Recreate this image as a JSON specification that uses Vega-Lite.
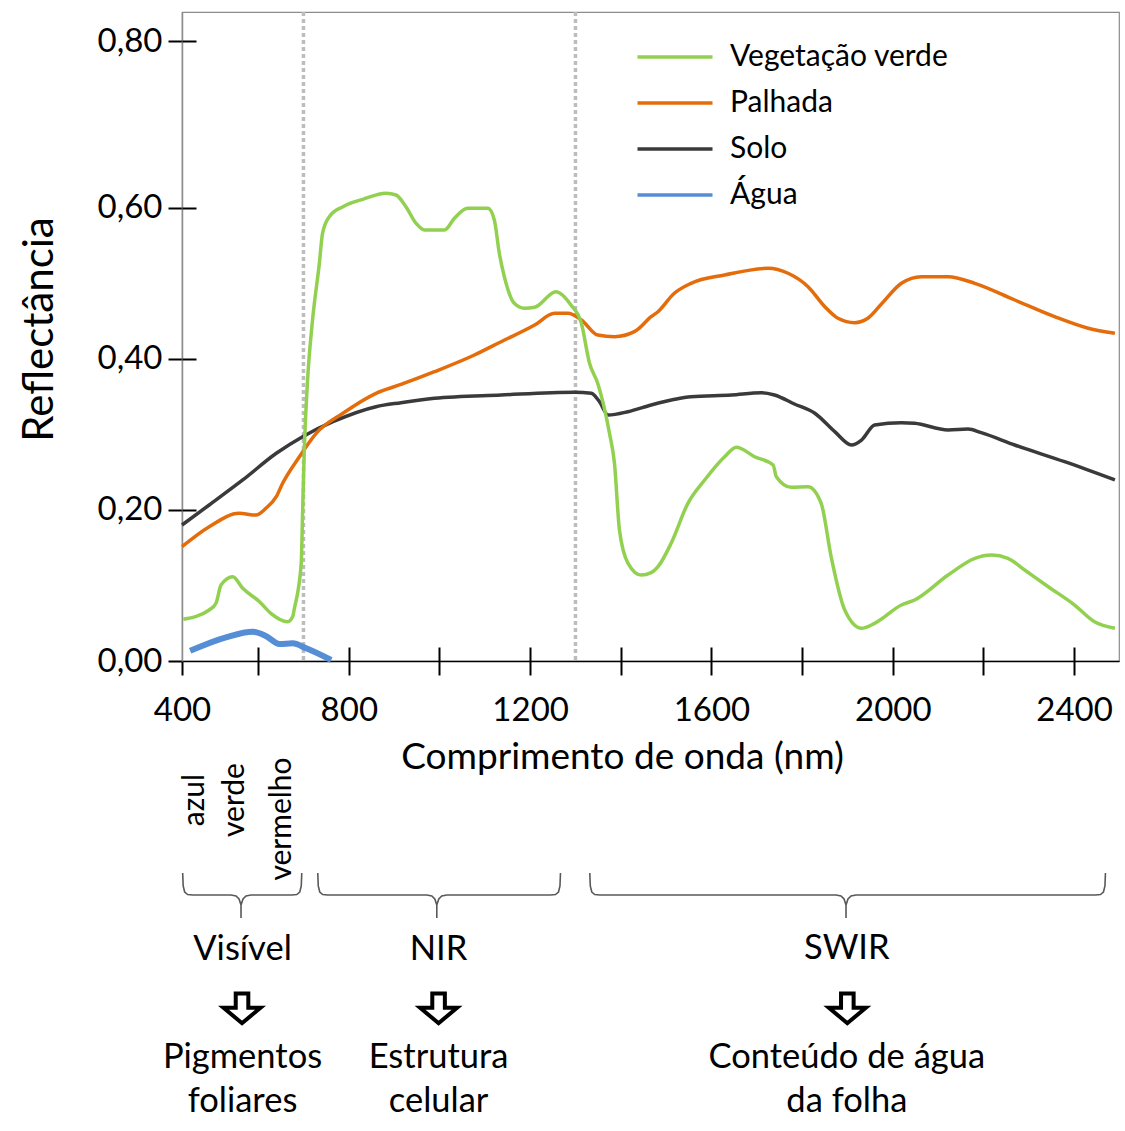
{
"$schema": "https://vega.github.io/schema/vega-lite/v6.json",
"padding": {"left": 17, "top": 9, "right": 2, "bottom": 0},
"background": "white",
"config": {"font": "Lato", "view": {"stroke": null}, "text": {"color": "black"}},
"datasets": {
"bands": [{"wl": 700}, {"wl": 1300}],
"curves": [
{"s":"Solo","wl":432,"r":0.18},{"s":"Solo","wl":492,"r":0.2065},{"s":"Solo","wl":566,"r":0.2396},{"s":"Solo","wl":640,"r":0.2749},{"s":"Solo","wl":698,"r":0.2969},{"s":"Solo","wl":765,"r":0.3167},{"s":"Solo","wl":860,"r":0.3366},{"s":"Solo","wl":915,"r":0.3419},{"s":"Solo","wl":989,"r":0.3477},{"s":"Solo","wl":1136,"r":0.3521},{"s":"Solo","wl":1298,"r":0.3557},{"s":"Solo","wl":1335,"r":0.3543},{"s":"Solo","wl":1353,"r":0.3432},{"s":"Solo","wl":1372,"r":0.3256},{"s":"Solo","wl":1416,"r":0.33},{"s":"Solo","wl":1467,"r":0.3389},{"s":"Solo","wl":1519,"r":0.3464},{"s":"Solo","wl":1555,"r":0.3498},{"s":"Solo","wl":1644,"r":0.3521},{"s":"Solo","wl":1710,"r":0.3551},{"s":"Solo","wl":1739,"r":0.3521},{"s":"Solo","wl":1783,"r":0.3402},{"s":"Solo","wl":1828,"r":0.3279},{"s":"Solo","wl":1872,"r":0.3035},{"s":"Solo","wl":1909,"r":0.2859},{"s":"Solo","wl":1931,"r":0.2925},{"s":"Solo","wl":1960,"r":0.3124},{"s":"Solo","wl":2019,"r":0.3154},{"s":"Solo","wl":2048,"r":0.3146},{"s":"Solo","wl":2122,"r":0.3058},{"s":"Solo","wl":2166,"r":0.3071},{"s":"Solo","wl":2195,"r":0.3022},{"s":"Solo","wl":2269,"r":0.2859},{"s":"Solo","wl":2379,"r":0.2638},{"s":"Solo","wl":2490,"r":0.2396},
{"s":"Palhada","wl":432,"r":0.1513},{"s":"Palhada","wl":492,"r":0.1778},{"s":"Palhada","wl":558,"r":0.1955},{"s":"Palhada","wl":595,"r":0.1932},{"s":"Palhada","wl":617,"r":0.2021},{"s":"Palhada","wl":640,"r":0.2175},{"s":"Palhada","wl":654,"r":0.2352},{"s":"Palhada","wl":691,"r":0.2704},{"s":"Palhada","wl":728,"r":0.3014},{"s":"Palhada","wl":787,"r":0.3279},{"s":"Palhada","wl":860,"r":0.3543},{"s":"Palhada","wl":915,"r":0.366},{"s":"Palhada","wl":989,"r":0.3829},{"s":"Palhada","wl":1077,"r":0.405},{"s":"Palhada","wl":1136,"r":0.4226},{"s":"Palhada","wl":1210,"r":0.4447},{"s":"Palhada","wl":1254,"r":0.4602},{"s":"Palhada","wl":1283,"r":0.4602},{"s":"Palhada","wl":1313,"r":0.4514},{"s":"Palhada","wl":1349,"r":0.4315},{"s":"Palhada","wl":1386,"r":0.4293},{"s":"Palhada","wl":1430,"r":0.4359},{"s":"Palhada","wl":1467,"r":0.4557},{"s":"Palhada","wl":1482,"r":0.4623},{"s":"Palhada","wl":1518,"r":0.4867},{"s":"Palhada","wl":1555,"r":0.4999},{"s":"Palhada","wl":1629,"r":0.5109},{"s":"Palhada","wl":1725,"r":0.5198},{"s":"Palhada","wl":1769,"r":0.5132},{"s":"Palhada","wl":1813,"r":0.4954},{"s":"Palhada","wl":1850,"r":0.469},{"s":"Palhada","wl":1879,"r":0.4536},{"s":"Palhada","wl":1916,"r":0.4478},{"s":"Palhada","wl":1945,"r":0.4536},{"s":"Palhada","wl":1975,"r":0.4725},{"s":"Palhada","wl":2019,"r":0.4999},{"s":"Palhada","wl":2063,"r":0.5087},{"s":"Palhada","wl":2122,"r":0.5087},{"s":"Palhada","wl":2181,"r":0.4999},{"s":"Palhada","wl":2269,"r":0.4778},{"s":"Palhada","wl":2357,"r":0.4557},{"s":"Palhada","wl":2431,"r":0.4404},{"s":"Palhada","wl":2490,"r":0.4337},
{"s":"Água","wl":450,"r":0.0136},{"s":"Água","wl":529,"r":0.0314},{"s":"Água","wl":588,"r":0.0388},{"s":"Água","wl":617,"r":0.0331},{"s":"Água","wl":647,"r":0.0225},{"s":"Água","wl":676,"r":0.0234},{"s":"Água","wl":706,"r":0.0168},{"s":"Água","wl":761,"r":0.0013},
{"s":"Vegetação verde","wl":435,"r":0.0552},{"s":"Vegetação verde","wl":492,"r":0.0675},{"s":"Vegetação verde","wl":507,"r":0.0764},{"s":"Vegetação verde","wl":518,"r":0.1006},{"s":"Vegetação verde","wl":544,"r":0.1116},{"s":"Vegetação verde","wl":566,"r":0.0962},{"s":"Vegetação verde","wl":603,"r":0.0785},{"s":"Vegetação verde","wl":628,"r":0.0631},{"s":"Vegetação verde","wl":665,"r":0.052},{"s":"Vegetação verde","wl":676,"r":0.0586},{"s":"Vegetação verde","wl":680,"r":0.0698},{"s":"Vegetação verde","wl":695,"r":0.1293},{"s":"Vegetação verde","wl":698,"r":0.1955},{"s":"Vegetação verde","wl":702,"r":0.2837},{"s":"Vegetação verde","wl":709,"r":0.3719},{"s":"Vegetação verde","wl":720,"r":0.4514},{"s":"Vegetação verde","wl":735,"r":0.5264},{"s":"Vegetação verde","wl":742,"r":0.5661},{"s":"Vegetação verde","wl":757,"r":0.5881},{"s":"Vegetação verde","wl":787,"r":0.6013},{"s":"Vegetação verde","wl":831,"r":0.6111},{"s":"Vegetação verde","wl":882,"r":0.6191},{"s":"Vegetação verde","wl":904,"r":0.6168},{"s":"Vegetação verde","wl":926,"r":0.6013},{"s":"Vegetação verde","wl":948,"r":0.5794},{"s":"Vegetação verde","wl":967,"r":0.5705},{"s":"Vegetação verde","wl":1011,"r":0.5705},{"s":"Vegetação verde","wl":1033,"r":0.586},{"s":"Vegetação verde","wl":1062,"r":0.5992},{"s":"Vegetação verde","wl":1107,"r":0.5992},{"s":"Vegetação verde","wl":1121,"r":0.5837},{"s":"Vegetação verde","wl":1132,"r":0.5396},{"s":"Vegetação verde","wl":1143,"r":0.5087},{"s":"Vegetação verde","wl":1165,"r":0.4735},{"s":"Vegetação verde","wl":1187,"r":0.467},{"s":"Vegetação verde","wl":1210,"r":0.4682},{"s":"Vegetação verde","wl":1257,"r":0.4888},{"s":"Vegetação verde","wl":1290,"r":0.4712},{"s":"Vegetação verde","wl":1313,"r":0.447},{"s":"Vegetação verde","wl":1331,"r":0.394},{"s":"Vegetação verde","wl":1349,"r":0.3676},{"s":"Vegetação verde","wl":1375,"r":0.3014},{"s":"Vegetação verde","wl":1386,"r":0.2617},{"s":"Vegetação verde","wl":1397,"r":0.1734},{"s":"Vegetação verde","wl":1416,"r":0.1293},{"s":"Vegetação verde","wl":1445,"r":0.1138},{"s":"Vegetação verde","wl":1467,"r":0.1169},{"s":"Vegetação verde","wl":1482,"r":0.1248},{"s":"Vegetação verde","wl":1511,"r":0.1558},{"s":"Vegetação verde","wl":1548,"r":0.2087},{"s":"Vegetação verde","wl":1585,"r":0.2396},{"s":"Vegetação verde","wl":1629,"r":0.2704},{"s":"Vegetação verde","wl":1655,"r":0.2829},{"s":"Vegetação verde","wl":1695,"r":0.2704},{"s":"Vegetação verde","wl":1736,"r":0.2594},{"s":"Vegetação verde","wl":1743,"r":0.244},{"s":"Vegetação verde","wl":1776,"r":0.2299},{"s":"Vegetação verde","wl":1813,"r":0.2307},{"s":"Vegetação verde","wl":1842,"r":0.2087},{"s":"Vegetação verde","wl":1864,"r":0.138},{"s":"Vegetação verde","wl":1894,"r":0.0675},{"s":"Vegetação verde","wl":1931,"r":0.0433},{"s":"Vegetação verde","wl":1960,"r":0.0499},{"s":"Vegetação verde","wl":2019,"r":0.0741},{"s":"Vegetação verde","wl":2048,"r":0.0807},{"s":"Vegetação verde","wl":2122,"r":0.1138},{"s":"Vegetação verde","wl":2181,"r":0.1359},{"s":"Vegetação verde","wl":2218,"r":0.1403},{"s":"Vegetação verde","wl":2254,"r":0.1359},{"s":"Vegetação verde","wl":2291,"r":0.1204},{"s":"Vegetação verde","wl":2343,"r":0.0983},{"s":"Vegetação verde","wl":2401,"r":0.0741},{"s":"Vegetação verde","wl":2445,"r":0.052},{"s":"Vegetação verde","wl":2490,"r":0.0433}
],
"colorlabels": [
{"t":"azul","wl":461,"lvl":50},{"t":"verde","wl":549,"lvl":50},{"t":"vermelho","wl":653,"lvl":69}
],
"braces": [
{"b":"vis","o":1,"wl":433.5,"lvl":123},{"b":"vis","o":2,"wl":434.6,"lvl":136},{"b":"vis","o":3,"wl":437.9,"lvl":142},{"b":"vis","o":4,"wl":444.5,"lvl":144.5},{"b":"vis","o":5,"wl":455.5,"lvl":145},{"b":"vis","o":6,"wl":540.2,"lvl":145},{"b":"vis","o":7,"wl":551.2,"lvl":146},{"b":"vis","o":8,"wl":557.8,"lvl":149},{"b":"vis","o":9,"wl":562.2,"lvl":155},{"b":"vis","o":10,"wl":562.2,"lvl":168},{"b":"vis","o":11,"wl":562.2,"lvl":155},{"b":"vis","o":12,"wl":566.6,"lvl":149},{"b":"vis","o":13,"wl":573.2,"lvl":146},{"b":"vis","o":14,"wl":584.2,"lvl":145},{"b":"vis","o":15,"wl":674.2,"lvl":145},{"b":"vis","o":16,"wl":685.2,"lvl":144.5},{"b":"vis","o":17,"wl":691.8,"lvl":142},{"b":"vis","o":18,"wl":695.1,"lvl":136},{"b":"vis","o":19,"wl":696.2,"lvl":123},
{"b":"nir","o":1,"wl":731.5,"lvl":123},{"b":"nir","o":2,"wl":732.6,"lvl":136},{"b":"nir","o":3,"wl":735.9,"lvl":142},{"b":"nir","o":4,"wl":742.5,"lvl":144.5},{"b":"nir","o":5,"wl":753.5,"lvl":145},{"b":"nir","o":6,"wl":972.1,"lvl":145},{"b":"nir","o":7,"wl":983.1,"lvl":146},{"b":"nir","o":8,"wl":989.7,"lvl":149},{"b":"nir","o":9,"wl":994.1,"lvl":155},{"b":"nir","o":10,"wl":994.1,"lvl":168},{"b":"nir","o":11,"wl":994.1,"lvl":155},{"b":"nir","o":12,"wl":998.5,"lvl":149},{"b":"nir","o":13,"wl":1005.1,"lvl":146},{"b":"nir","o":14,"wl":1016.1,"lvl":145},{"b":"nir","o":15,"wl":1244.9,"lvl":145},{"b":"nir","o":16,"wl":1255.9,"lvl":144.5},{"b":"nir","o":17,"wl":1262.5,"lvl":142},{"b":"nir","o":18,"wl":1265.8,"lvl":136},{"b":"nir","o":19,"wl":1266.9,"lvl":123},
{"b":"swir","o":1,"wl":1331.6,"lvl":123},{"b":"swir","o":2,"wl":1332.7,"lvl":136},{"b":"swir","o":3,"wl":1336,"lvl":142},{"b":"swir","o":4,"wl":1342.6,"lvl":144.5},{"b":"swir","o":5,"wl":1353.6,"lvl":145},{"b":"swir","o":6,"wl":1874.8,"lvl":145},{"b":"swir","o":7,"wl":1885.8,"lvl":146},{"b":"swir","o":8,"wl":1892.4,"lvl":149},{"b":"swir","o":9,"wl":1896.8,"lvl":155},{"b":"swir","o":10,"wl":1896.8,"lvl":168},{"b":"swir","o":11,"wl":1896.8,"lvl":155},{"b":"swir","o":12,"wl":1901.2,"lvl":149},{"b":"swir","o":13,"wl":1907.8,"lvl":146},{"b":"swir","o":14,"wl":1918.8,"lvl":145},{"b":"swir","o":15,"wl":2447.1,"lvl":145},{"b":"swir","o":16,"wl":2458.1,"lvl":144.5},{"b":"swir","o":17,"wl":2464.7,"lvl":142},{"b":"swir","o":18,"wl":2468,"lvl":136},{"b":"swir","o":19,"wl":2469.1,"lvl":123}
],
"regions": [
{"t":"Visível","wl":565.5,"lvl":200},{"t":"NIR","wl":998,"lvl":200},{"t":"SWIR","wl":1898.6,"lvl":199}
],
"arrows": [
{"wl":564.4,"lvl":259},{"wl":998,"lvl":259},{"wl":1899.7,"lvl":259}
],
"effects": [
{"t":"Pigmentos\nfoliares","wl":565.5,"lvl":308},{"t":"Estrutura\ncelular","wl":998,"lvl":308},{"t":"Conteúdo de água\nda folha","wl":1898.6,"lvl":308}
]
},
"spacing": 89,
"bounds": "flush",
"resolve": {"scale": {"x": "independent", "y": "independent"}},
"vconcat": [
{
"width": 937, "height": 649,
"view": {"stroke": "#8c8c8c", "strokeWidth": 1.2},
"resolve": {"axis": {"x": "independent", "y": "independent"}},
"layer": [
{
"data": {"name": "bands"},
"mark": {"type": "rule", "strokeDash": [4, 3], "strokeWidth": 3.5, "color": "#bdbdbd"},
"encoding": {
"x": {"field": "wl", "type": "quantitative", "scale": {"domain": [432, 2499], "nice": false, "zero": false},
"axis": {"orient": "bottom", "values": [432, 600, 800, 1000, 1200, 1400, 1600, 1800, 2000, 2200, 2400],
"labelExpr": "datum.value == 432 ? '400' : (datum.value % 400 == 0 ? '' + datum.value : '')",
"labelFontSize": 33, "labelColor": "black", "labelFont": "Lato", "labelPadding": 19, "labelFlush": false, "labelOverlap": false,
"tickSize": 14, "tickWidth": 2, "tickColor": "black", "domainColor": "black", "domainWidth": 1.5, "grid": false,
"title": "Comprimento de onda (nm)", "titleFont": "Lato", "titleFontSize": 37, "titleFontWeight": "normal", "titleColor": "black",
"titleX": 440, "titleY": 96, "titleBaseline": "middle", "titleAlign": "center"}}
}
},
{
"data": {"name": "curves"},
"mark": {"type": "line", "interpolate": "monotone"},
"encoding": {
"x": {"field": "wl", "type": "quantitative", "scale": {"domain": [432, 2499], "nice": false, "zero": false}, "axis": null},
"y": {"field": "r", "type": "quantitative", "scale": {"domain": [0, 0.859], "nice": false, "zero": false},
"axis": {"orient": "left", "values": [0, 0.2, 0.4, 0.6, 0.82],
"labelExpr": "datum.value > 0.81 ? '0,80' : replace(format(datum.value, '.2f'), '.', ',')",
"labelFontSize": 33, "labelColor": "black", "labelFont": "Lato", "labelPadding": 6, "labelFlush": false,
"tickSize": 14, "tickWidth": 2, "tickColor": "black", "domainColor": "#8c8c8c", "domainWidth": 1.5, "grid": false,
"title": "Reflectância", "titleFont": "Lato", "titleFontSize": 42, "titleFontWeight": "normal", "titleColor": "black",
"titleX": -143, "titleY": 317, "titleAngle": 270, "titleBaseline": "middle", "titleAlign": "center"}},
"color": {"field": "s", "type": "nominal",
"scale": {"domain": ["Vegetação verde", "Palhada", "Solo", "Água"], "range": ["#92D050", "#E46C0A", "#3a3a3a", "#558ED5"]},
"legend": {"orient": "none", "legendX": 476, "legendY": 28, "title": null, "labelFontSize": 30, "labelColor": "black", "labelFont": "Lato", "labelLimit": 0,
"symbolType": "M-2.5,0L2.5,0", "symbolSize": 900, "symbolStrokeWidth": 3.5, "rowPadding": 14, "labelOffset": 38, "padding": 0}},
"strokeWidth": {"condition": {"test": "datum.s == 'Água'", "value": 6}, "value": 3.5}
}
},
{
"data": {"name": "curves"},
"mark": {"type": "point", "opacity": 0},
"encoding": {
"x": {"field": "wl", "type": "quantitative",
"axis": {"orient": "bottom", "values": [600, 800, 1000, 1200, 1400, 1600, 1800, 2000, 2200, 2400], "tickSize": -14, "tickWidth": 2, "tickColor": "black", "labels": false, "domain": false, "grid": false, "title": null}},
"y": {"field": "r", "type": "quantitative",
"axis": {"orient": "left", "values": [0.2, 0.4, 0.6, 0.82], "tickSize": -14, "tickWidth": 2, "tickColor": "black", "labels": false, "domain": false, "grid": false, "title": null}}
}
}
]
},
{
"width": 937, "height": 375,
"view": {"stroke": null},
"layer": [
{
"data": {"name": "braces"},
"mark": {"type": "line", "color": "#595959", "strokeWidth": 1.6},
"encoding": {
"x": {"field": "wl", "type": "quantitative", "scale": {"domain": [432, 2499], "nice": false, "zero": false}, "axis": null},
"y": {"field": "lvl", "type": "quantitative", "scale": {"domain": [0, 375], "reverse": true, "nice": false}, "axis": null},
"detail": {"field": "b"},
"order": {"field": "o", "type": "quantitative"}
}
},
{
"data": {"name": "colorlabels"},
"mark": {"type": "text", "angle": 270, "fontSize": 30, "align": "center", "baseline": "middle", "font": "Lato"},
"encoding": {
"x": {"field": "wl", "type": "quantitative"},
"y": {"field": "lvl", "type": "quantitative"},
"text": {"field": "t"}
}
},
{
"data": {"name": "regions"},
"mark": {"type": "text", "fontSize": 34.5, "align": "center", "baseline": "middle", "font": "Lato"},
"encoding": {
"x": {"field": "wl", "type": "quantitative"},
"y": {"field": "lvl", "type": "quantitative"},
"text": {"field": "t"}
}
},
{
"data": {"name": "arrows"},
"mark": {"type": "point", "shape": "M-0.34,-0.84L0.34,-0.84L0.34,-0.07L1,-0.07L0,0.77L-1,-0.07L-0.34,-0.07Z", "size": 1369, "filled": true, "fill": "white", "stroke": "black", "strokeWidth": 4, "opacity": 1, "strokeJoin": "miter"},
"encoding": {
"x": {"field": "wl", "type": "quantitative"},
"y": {"field": "lvl", "type": "quantitative"}
}
},
{
"data": {"name": "effects"},
"mark": {"type": "text", "fontSize": 34.5, "align": "center", "baseline": "middle", "lineBreak": "\n", "lineHeight": 44, "font": "Lato"},
"encoding": {
"x": {"field": "wl", "type": "quantitative"},
"y": {"field": "lvl", "type": "quantitative"},
"text": {"field": "t"}
}
}
]
}
]
}
